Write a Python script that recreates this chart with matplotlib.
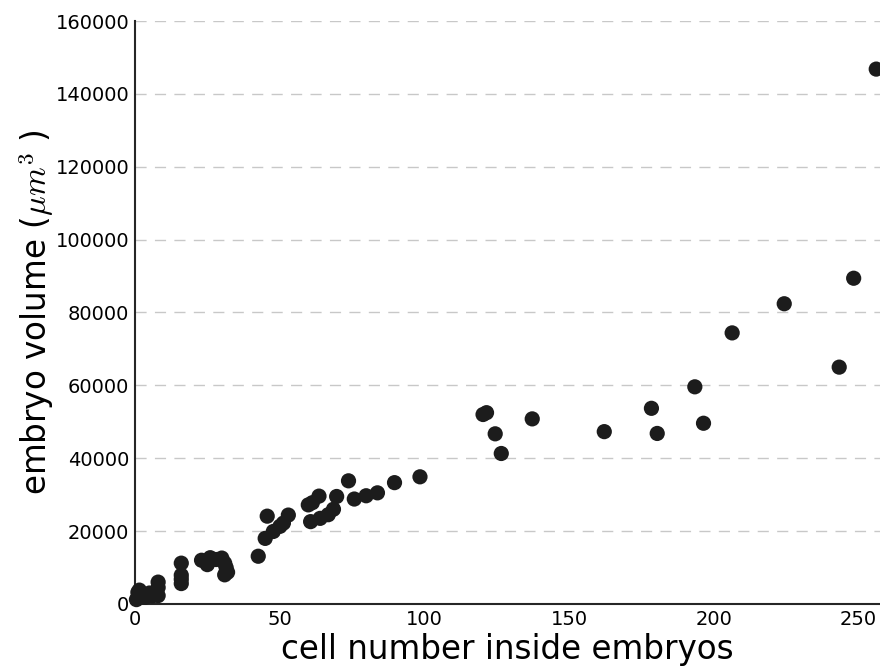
import matplotlib
matplotlib.use('Agg')
import matplotlib.pyplot as plt
import numpy as np

# cell number vs embryo volume
cells = [0.5, 1, 1.5, 2.5, 3.5, 5, 6, 8, 8, 8,
         16, 16, 16, 16,
         23, 25, 26, 28, 30, 31, 31.5, 31, 32,
         42.6, 45, 45.7, 47.8, 50.1, 51.3, 53,
         59.9, 61.3, 63.6, 60.7, 64, 66.8, 68.6, 69.7,
         73.8, 75.8, 79.9, 83.8, 89.7, 98.5,
         120.3, 121.5, 124.5, 126.6, 137.3,
         162.2, 178.5, 180.5, 193.5, 196.5, 206.4, 224.4,
         243.4, 248.4, 256.2]
volume = [1200, 3200, 3800, 2400, 1800, 3000, 2200, 2300, 4500, 6000,
          11200, 7900, 6800, 5600,
          12000, 10800, 12700, 12200, 12600, 11200, 10000, 8000, 8700,
          13100, 18000, 24100, 19900, 21300, 22200, 24400,
          27200, 27800, 29600, 22600, 23500, 24500, 26000, 29500,
          33800, 28800, 29700, 30500, 33300, 34900,
          52000, 52500, 46700, 41300, 50800,
          47300, 53700, 46800, 59600, 49600, 74400, 82400,
          65000, 89400, 146800]

yticks = np.arange(0, 160001, 20000)
xticks = [0, 50, 100, 150, 200, 250]

plt.rcParams['mathtext.fontset'] = 'cm'

fig = plt.figure(figsize=(8.8, 6.69), dpi=100)
ax = fig.add_axes([0.1534, 0.0972, 0.8466, 0.8714])

ax.scatter(cells, volume, s=120, color='#1c1c1c', edgecolors='none',
           zorder=3, clip_on=False)

ax.set_xlim(0, 257.5)
ax.set_ylim(0, 160000)
ax.set_xticks(xticks)
ax.set_yticks(yticks)
ax.tick_params(length=0, labelsize=14, pad=4)

ax.yaxis.grid(True, linestyle=(0, (8, 6)), color='#c8c8c8', linewidth=1)
ax.set_axisbelow(True)
for side in ['top', 'right']:
    ax.spines[side].set_visible(False)
for side in ['left', 'bottom']:
    ax.spines[side].set_color('#262626')
    ax.spines[side].set_linewidth(1.5)

ax.set_xlabel('cell number inside embryos', fontsize=23.5, labelpad=3)
ax.set_ylabel(r'embryo volume ($\mu m^3$ )', fontsize=23.5, labelpad=0)

fig.savefig('out.png', dpi=100)
